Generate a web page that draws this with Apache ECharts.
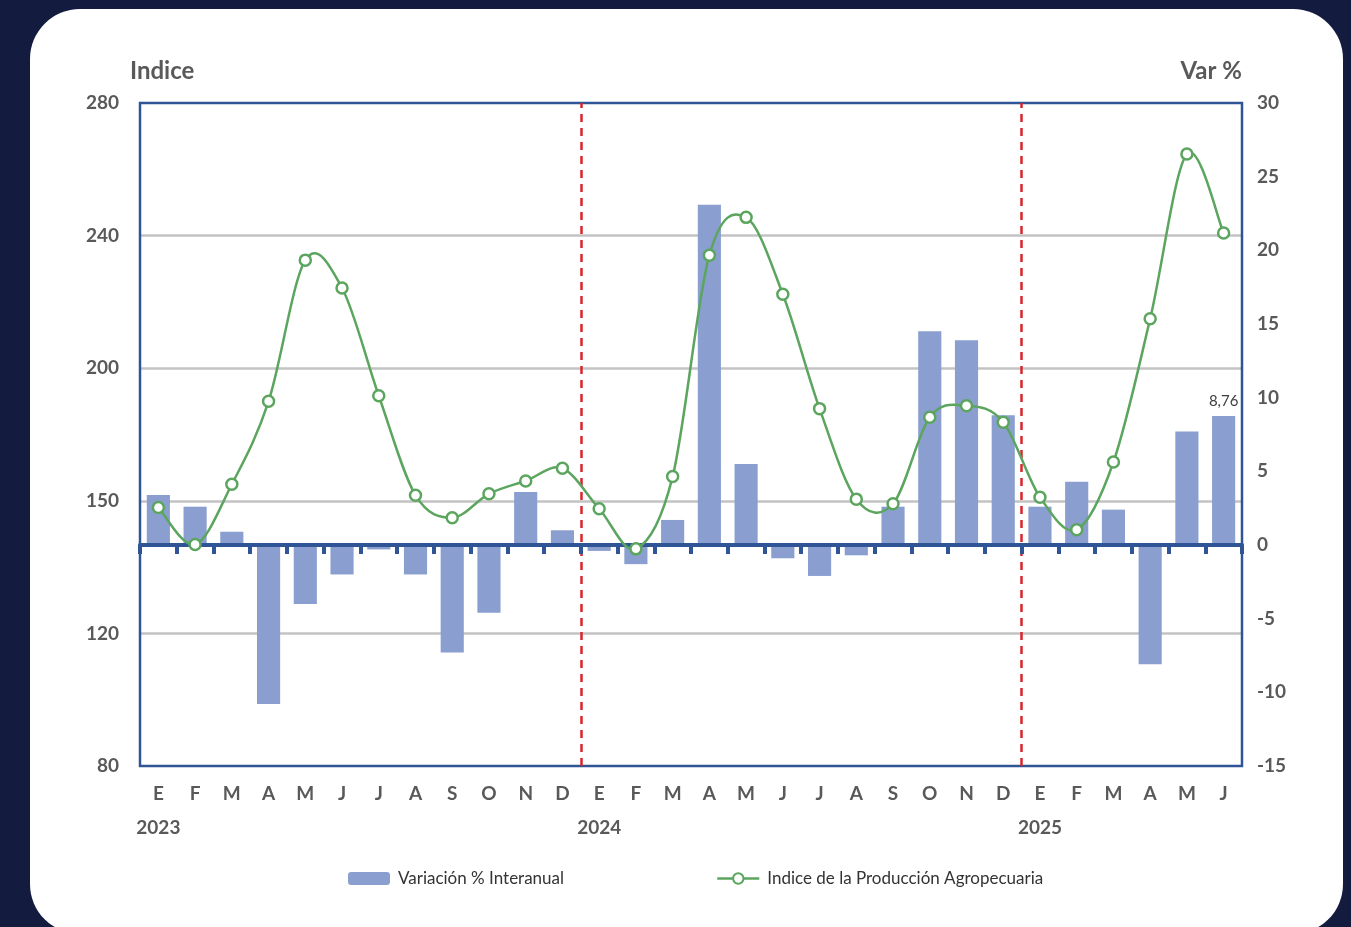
<!DOCTYPE html>
<html>
<head>
<meta charset="utf-8">
<script src="https://cdn.jsdelivr.net/npm/echarts@6/dist/echarts.min.js"></script>
<style>
  html, body { margin: 0; padding: 0; width: 1351px; height: 927px; overflow: hidden; background: #131b3f; }
  #card { position: absolute; left: 30px; top: 9px; width: 1313px; height: 925px; background: #ffffff; border-radius: 50px; }
  #chart { position: absolute; left: 0; top: 0; width: 1351px; height: 927px; }
</style>
</head>
<body>
<div id="card"></div>
<div id="chart"></div>
<script>
// ---- Data ----
const months = ['E','F','M','A','M','J','J','A','S','O','N','D',
                'E','F','M','A','M','J','J','A','S','O','N','D',
                'E','F','M','A','M','J'];
const yearLabels = ['2023','','','','','','','','','','','',
                    '2024','','','','','','','','','','','',
                    '2025','','','','',''];
// Variación % Interanual (right axis)
const variacion = [3.4, 2.6, 0.9, -10.8, -4.0, -2.0, -0.3, -2.0, -7.3, -4.6, 3.6, 1.0,
                   -0.4, -1.3, 1.7, 23.1, 5.5, -0.9, -2.1, -0.7, 2.6, 14.5, 13.9, 8.8,
                   2.6, 4.3, 2.4, -8.1, 7.7, 8.76];
// Indice de la Producción Agropecuaria (left axis)
const indice = [158.0, 146.8, 165.0, 190.0, 232.6, 224.2, 191.7, 161.7, 154.9, 162.1, 166.0, 169.8,
                157.6, 145.5, 167.3, 234.1, 245.5, 222.3, 187.8, 160.5, 159.1, 185.2, 188.7, 183.7,
                161.1, 151.3, 171.7, 214.9, 264.6, 240.8];
const leftTickLabels = ['80','120','150','200','240','280'];
const yearBoundaries = [12, 24];
const labeledBarIndex = 29;

// ---- Styles ----
const textGray = '#595959';
const frameBlue = '#2f5597';
const green = '#5ba55f';
const fontFam = 'Lato, "Open Sans", sans-serif';

const chart = echarts.init(document.getElementById('chart'));

const barData = variacion.map((v, i) => i === labeledBarIndex ? {
  value: v,
  label: { show: true, position: 'top', distance: 7, formatter: p => String(p.value).replace('.', ','),
           color: '#404040', fontSize: 15, fontFamily: fontFam }
} : v);

// Excel-like (Catmull-Rom) smoothed segment between point i and i+1, positioned by the axes
function renderCurveSegment(params, api) {
  const i = params.dataIndex;
  const n = indice.length;
  if (i >= n - 1) return null;
  const idx = k => Math.max(0, Math.min(n - 1, k));
  const p = k => api.coord([idx(k), indice[idx(k)]]);
  const p0 = p(i - 1), p1 = p(i), p2 = p(i + 1), p3 = p(i + 2);
  const t = 1 / 6;
  return {
    type: 'bezierCurve',
    shape: {
      x1: p1[0], y1: p1[1], x2: p2[0], y2: p2[1],
      cpx1: p1[0] + (p2[0] - p0[0]) * t, cpy1: p1[1] + (p2[1] - p0[1]) * t,
      cpx2: p2[0] - (p3[0] - p1[0]) * t, cpy2: p2[1] - (p3[1] - p1[1]) * t
    },
    style: { stroke: green, lineWidth: 2.5, fill: null },
    silent: true
  };
}

chart.setOption({
  backgroundColor: 'transparent',
  textStyle: { fontFamily: fontFam },
  grid: { left: 140, right: 109, top: 103, bottom: 161, show: true, borderColor: frameBlue, borderWidth: 2.5, backgroundColor: 'transparent', z: 4 },
  legend: {
    left: 343, top: 865, itemWidth: 42, itemHeight: 13, itemGap: 152,
    data: [
      { name: 'Variación % Interanual' },
      { name: 'Indice de la Producción Agropecuaria', lineStyle: { color: green, width: 2.5, opacity: 1 } }
    ],
    textStyle: { color: '#333', fontSize: 17, fontFamily: fontFam, padding: [0, 0, 0, 3] }
  },
  xAxis: [
    {
      type: 'category', data: months, position: 'bottom', boundaryGap: true,
      axisLine: { show: false }, axisTick: { show: false }, splitLine: { show: false },
      axisLabel: {
        interval: 0, margin: 11,
        formatter: (val, idx) => yearLabels[idx] ? '{m|' + val + '}\n{y|' + yearLabels[idx] + '}' : '{m|' + val + '}',
        rich: {
          m: { fontSize: 19, fontWeight: 'bold', color: textGray, fontFamily: fontFam, lineHeight: 34 },
          y: { fontSize: 19, fontWeight: 'bold', color: textGray, fontFamily: fontFam, lineHeight: 34 }
        }
      }
    },
    {
      type: 'category', data: months, position: 'bottom', boundaryGap: true, z: 5,
      axisLine: { show: true, onZero: true, onZeroAxisIndex: 1, lineStyle: { color: frameBlue, width: 4 } },
      axisTick: { show: true, length: 9, inside: false, lineStyle: { color: frameBlue, width: 4 } },
      axisLabel: { show: false }, splitLine: { show: false }
    },
    { type: 'value', min: 0, max: 30, show: false }
  ],
  yAxis: [
    {
      type: 'value', min: 80, max: 280, interval: 40, position: 'left',
      name: 'Indice', nameLocation: 'end', nameGap: 20,
      nameTextStyle: { color: textGray, fontSize: 24, fontWeight: 'bold', align: 'left', padding: [0, 0, 0, -10], fontFamily: fontFam },
      axisLine: { show: false }, axisTick: { show: false },
      axisLabel: { margin: 21, color: textGray, fontSize: 19, fontWeight: 'bold', fontFamily: fontFam,
                   formatter: (v, idx) => leftTickLabels[idx] },
      splitLine: { show: true, showMinLine: false, showMaxLine: false, lineStyle: { color: '#c3c3c3', width: 2.5 } }
    },
    {
      type: 'value', min: -15, max: 30, interval: 5, position: 'right',
      name: 'Var %', nameLocation: 'end', nameGap: 20,
      nameTextStyle: { color: textGray, fontSize: 24, fontWeight: 'bold', align: 'right', padding: [0, 0, 0, 0], fontFamily: fontFam },
      axisLine: { show: false }, axisTick: { show: false },
      axisLabel: { margin: 15, color: textGray, fontSize: 19, fontWeight: 'bold', fontFamily: fontFam },
      splitLine: { show: false }
    }
  ],
  series: [
    {
      name: 'Variación % Interanual', type: 'bar', xAxisIndex: 0, yAxisIndex: 1,
      data: barData, barCategoryGap: '37%', itemStyle: { color: '#8a9fcf' }, z: 2
    },
    {
      name: 'red-lines', type: 'line', xAxisIndex: 2, yAxisIndex: 0, data: [], silent: true,
      markLine: {
        silent: true, symbol: ['none', 'none'], label: { show: false },
        lineStyle: { color: '#d7262d', type: [8, 6], width: 2.5 },
        data: yearBoundaries.map(b => ({ xAxis: b }))
      }, z: 3
    },
    {
      name: 'curve', type: 'custom', xAxisIndex: 0, yAxisIndex: 0,
      data: indice.map((v, i) => [i, v]), encode: { x: 0, y: 1 },
      renderItem: renderCurveSegment, silent: true, z: 9
    },
    {
      name: 'Indice de la Producción Agropecuaria', type: 'line', xAxisIndex: 0, yAxisIndex: 0,
      data: indice, symbol: 'circle', symbolSize: 11,
      lineStyle: { color: green, width: 2.5, opacity: 0 },
      itemStyle: { color: '#ffffff', borderColor: green, borderWidth: 2.5 },
      z: 10
    }
  ]
});
</script>
</body>
</html>
